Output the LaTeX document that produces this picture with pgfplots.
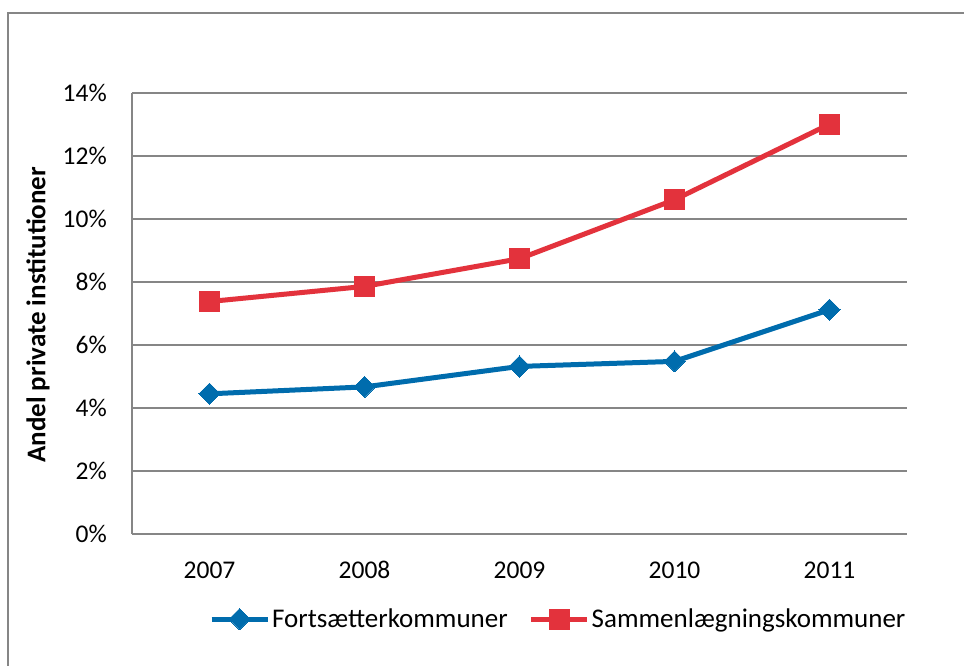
\documentclass[border=0pt]{standalone}
\usepackage{fontspec}
\setmainfont{Carlito}
\usepackage{pgfplots}
\pgfplotsset{compat=1.18}

\definecolor{serieblue}{RGB}{0,108,173}
\definecolor{seriered}{RGB}{227,50,60}
\definecolor{gridgray}{RGB}{134,134,134}

\newcommand{\chartfont}{\fontsize{25.5bp}{30bp}\selectfont}
\newcommand{\labelfont}{\fontsize{27bp}{32bp}\selectfont}

\begin{document}
\begin{tikzpicture}
\useasboundingbox (0,0) rectangle (964bp,666bp);
\fill[white] (0,0) rectangle (964bp,666bp);
% chart area frame (only left and top edges are inside the picture)
\draw[gridgray, line width=1.5bp] (8bp,-2bp) -- (8bp,653bp) -- (966bp,653bp);

\begin{axis}[
    at={(132bp,132bp)}, anchor=south west,
    scale only axis,
    width=775bp, height=441bp,
    xmin=-0.5, xmax=4.5,
    ymin=0, ymax=14,
    xtick={0,1,2,3,4},
    xticklabels={2007,2008,2009,2010,2011},
    ytick={0,2,...,14},
    yticklabel={\pgfmathprintnumber{\tick}\%},
    /pgf/number format/assume math mode=true,
    major tick length=0pt,
    axis lines=left,
    axis line style={-, gridgray, line width=1.5bp},
    ymajorgrids,
    grid style={gridgray, line width=1.5bp},
    tick label style={font=\chartfont},
    xticklabel style={anchor=center, yshift=-36bp},
    yticklabel style={anchor=east, inner sep=0pt, xshift=-25bp},
    ylabel={Andel private institutioner},
    ylabel style={font=\labelfont\bfseries, at={(axis description cs:-0.1213,0.497)}, anchor=center},
    legend columns=2,
    legend style={at={(0.55,-0.193)}, anchor=center, draw=none, fill=none,
        font=\labelfont, nodes={inner sep=2bp},
        /tikz/every even column/.append style={column sep=19bp}},
    legend image code/.code={\draw[mark repeat=2, mark phase=2, #1]
        plot coordinates {(0bp,0bp) (28bp,0bp) (56bp,0bp)};},
    every axis plot/.append style={line width=5bp, line join=round},
]
\addplot[serieblue, mark=square*, mark size=7.5bp, mark options={rotate=45, solid, line width=0pt}]
    coordinates {(0,4.45) (1,4.67) (2,5.32) (3,5.48) (4,7.12)};
\addlegendentry{Fortsætterkommuner}
\addplot[seriered, mark=square*, mark size=10bp, mark options={solid, line width=0pt}]
    coordinates {(0,7.38) (1,7.86) (2,8.74) (3,10.61) (4,13.01)};
\addlegendentry{Sammenlægningskommuner}
\end{axis}
\end{tikzpicture}
\end{document}
